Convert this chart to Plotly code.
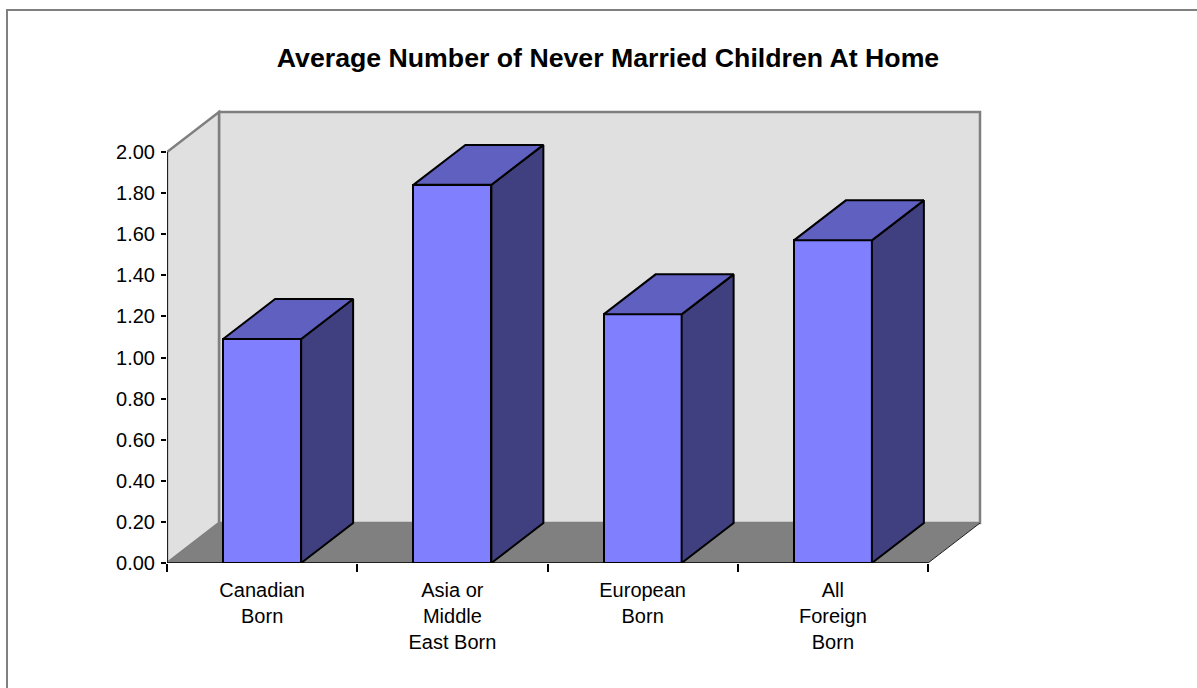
import plotly.graph_objects as go

# Data
categories = ["Canadian<br>Born", "Asia or<br>Middle<br>East Born", "European<br>Born", "All<br>Foreign<br>Born"]
values = [1.09, 1.84, 1.21, 1.57]
y_ticks = [0.0, 0.2, 0.4, 0.6, 0.8, 1.0, 1.2, 1.4, 1.6, 1.8, 2.0]
y_max = 2.0

# 3D look: depth offset of the back plane, in axis units
DX = 0.2733
DY = 0.1946
BAR_W = 0.41
# small slack so the wall outlines are not clipped by the plot area
PAD_X = 3 / 190.25
PAD_Y = 3 / 205.5

FRONT = "#8080FF"
TOP = "#6060C0"
SIDE = "#404080"
WALL = "#E0E0E0"
FLOOR = "#808080"
EDGE = "#7F7F7F"
FONT = "Liberation Sans, Arial, sans-serif"

W, H = 1197, 688
ML, MR, MT, MB = 167, 214, 109, 125

xs = list(range(len(values)))
x0, x1 = -0.5, len(values) - 0.5

fig = go.Figure()

# walls and floor
shapes = [
    # back wall
    dict(type="rect", x0=x0 + DX, x1=x1 + DX, y0=DY, y1=y_max + DY,
         fillcolor=WALL, line=dict(color=EDGE, width=2.5), layer="below"),
    # left side wall
    dict(type="path",
         path=f"M {x0},0 L {x0 + DX},{DY} L {x0 + DX},{y_max + DY} L {x0},{y_max} Z",
         fillcolor=WALL, line=dict(color=EDGE, width=2.5), layer="below"),
    # floor
    dict(type="path",
         path=f"M {x0},0 L {x1},0 L {x1 + DX},{DY} L {x0 + DX},{DY} Z",
         fillcolor=FLOOR, line=dict(width=0), layer="below"),
    # floor right edge
    dict(type="line", x0=x1, y0=0, x1=x1 + DX, y1=DY,
         line=dict(color="#202020", width=1), layer="below"),
    # value axis line
    dict(type="line", x0=x0, y0=0, x1=x0, y1=y_max,
         line=dict(color="black", width=1.5), layer="above"),
    # category axis line
    dict(type="line", x0=x0, y0=0, x1=x1, y1=0,
         line=dict(color="black", width=1.5), layer="above"),
]

# outer chart border (pixel positions converted to paper units)
def px(x):
    return (x - ML) / (W - ML - MR)

def py(y):
    return (H - MB - y) / (H - MT - MB)

shapes.append(dict(type="rect", xref="paper", yref="paper",
                   x0=px(7), x1=px(1205), y0=py(10), y1=py(700),
                   line=dict(color="#808080", width=2), fillcolor="rgba(0,0,0,0)"))

# side and top faces of each bar
for x, v in zip(xs, values):
    l, r = x - BAR_W / 2, x + BAR_W / 2
    fig.add_trace(go.Scatter(
        x=[r, r + DX, r + DX, r, r], y=[0, DY, v + DY, v, 0],
        mode="lines", fill="toself", fillcolor=SIDE,
        line=dict(color="black", width=2), hoverinfo="skip", showlegend=False))
    fig.add_trace(go.Scatter(
        x=[l, r, r + DX, l + DX, l], y=[v, v, v + DY, v + DY, v],
        mode="lines", fill="toself", fillcolor=TOP,
        line=dict(color="black", width=2), hoverinfo="skip", showlegend=False))

# front faces
fig.add_trace(go.Bar(
    x=xs, y=values, width=BAR_W,
    marker=dict(color=FRONT, line=dict(color="black", width=2)),
    showlegend=False, hovertemplate="%{y:.2f}<extra></extra>"))

fig.update_layout(
    width=W, height=H,
    margin=dict(l=ML, r=MR, t=MT, b=MB, pad=0),
    paper_bgcolor="white", plot_bgcolor="white",
    font=dict(family=FONT, size=20, color="black"),
    title=dict(text="<b>Average Number of Never Married Children At Home</b>",
               font=dict(family=FONT, size=26.7, color="black"),
               x=608 / W, xanchor="center", xref="container",
               y=1 - 58 / H, yanchor="middle", yref="container"),
    shapes=shapes,
    bargap=0,
    xaxis=dict(range=[x0, x1 + DX + PAD_X], tickmode="array", tickvals=xs, ticktext=categories,
               ticks="", showgrid=False, zeroline=False, showline=False,
               ticklabelstandoff=13,
               tickfont=dict(family=FONT, size=20),
               minor=dict(tickmode="array", tickvals=[i - 0.5 for i in range(len(values) + 1)],
                          ticks="outside", ticklen=8, tickcolor="black", tickwidth=1.5,
                          showgrid=False)),
    yaxis=dict(range=[0, y_max + DY + PAD_Y], tickmode="array", tickvals=y_ticks,
               tickformat=".2f", ticks="outside", ticklen=5, tickcolor="black",
               tickwidth=1.5, showgrid=False, zeroline=False, showline=False,
               ticklabelstandoff=2,
               tickfont=dict(family=FONT, size=20)),
)

fig.write_html("out.html")
